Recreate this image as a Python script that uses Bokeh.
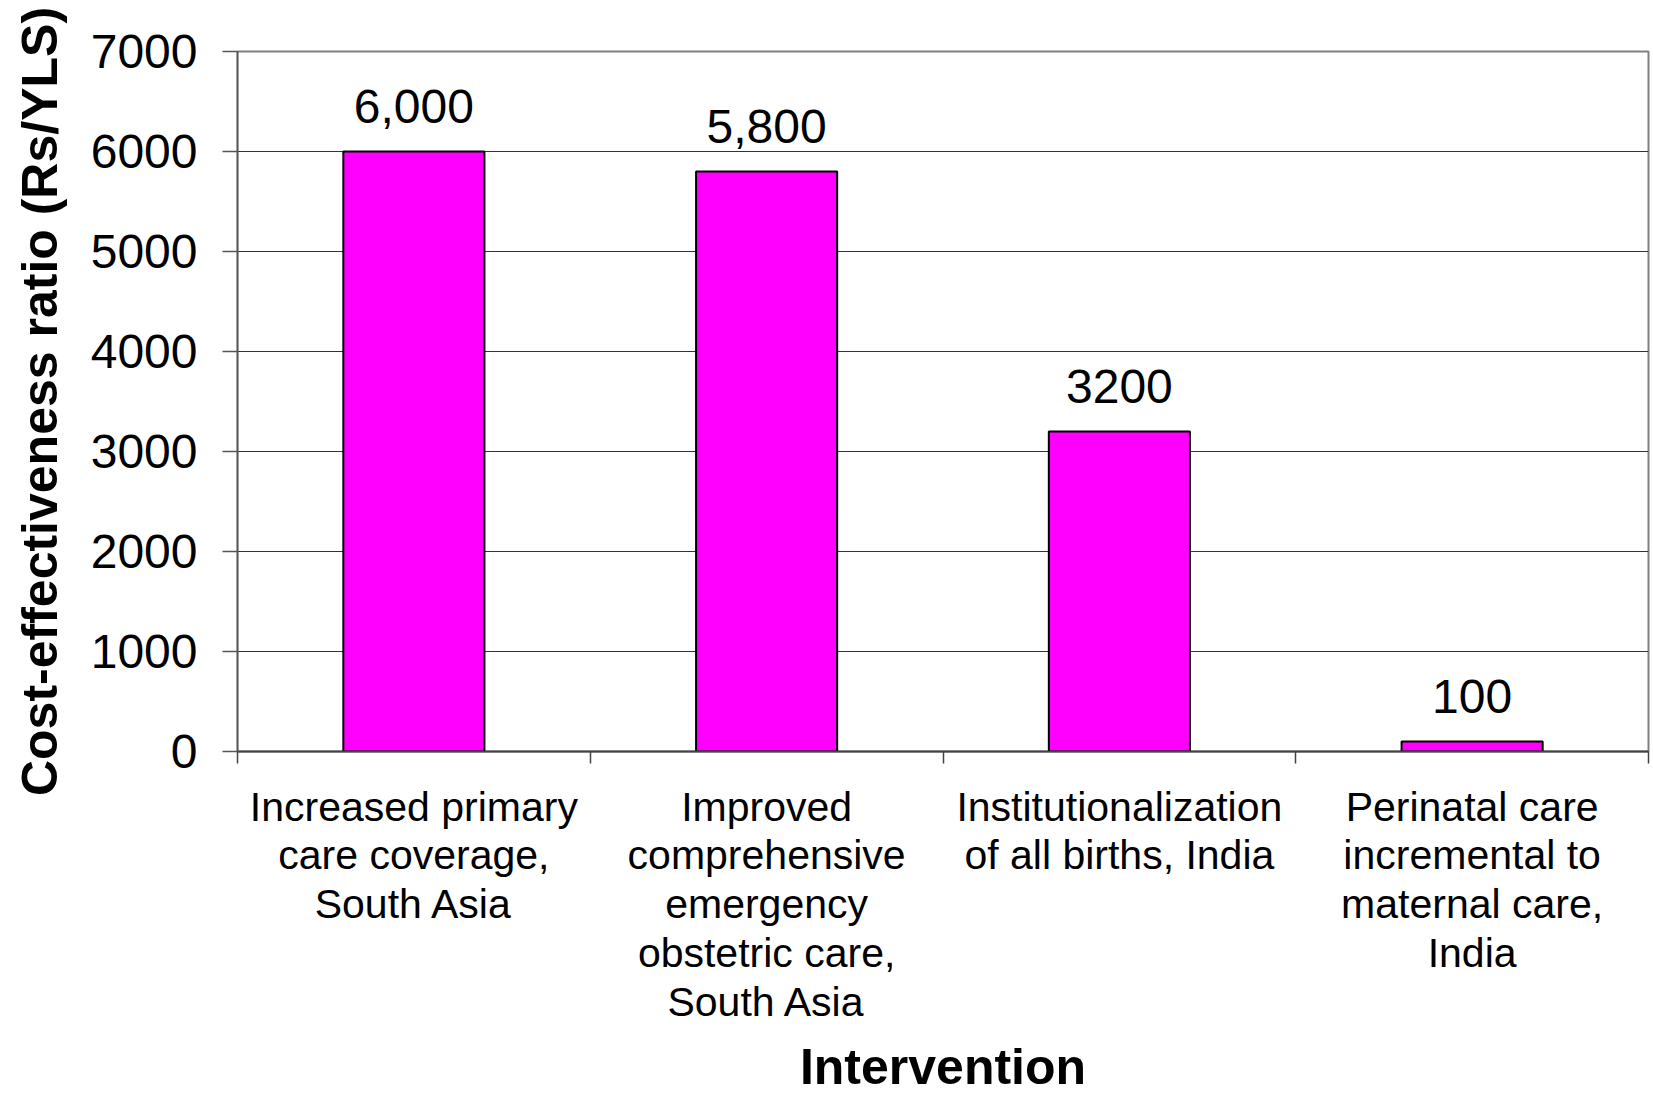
from bokeh.plotting import figure
from bokeh.models import Range1d, FixedTicker, ColumnDataSource
from bokeh.core.properties import value
from bokeh.embed import file_html
from bokeh.resources import INLINE

# Interventions and their cost-effectiveness ratios (Rs per year of life saved)
categories = [
    "Increased primary\ncare coverage,\nSouth Asia",
    "Improved\ncomprehensive\nemergency\nobstetric care,\nSouth Asia",
    "Institutionalization\nof all births, India",
    "Perinatal care\nincremental to\nmaternal care,\nIndia",
]
ratios = [6000, 5800, 3200, 100]
ratio_labels = ["6,000", "5,800", "3200", "100"]
y_ticks = [0, 1000, 2000, 3000, 4000, 5000, 6000, 7000]

FONT = "Liberation Sans"

centers = [i + 0.5 for i in range(len(categories))]
bounds = [float(i) for i in range(len(categories) + 1)]

src = ColumnDataSource(dict(x=centers, top=ratios, label=ratio_labels))

p = figure(
    width=1653, height=1098,
    x_range=Range1d(0, len(categories)), y_range=Range1d(0, 7000),
    output_backend="svg", toolbar_location=None,
    min_border_left=237, min_border_right=5,
    min_border_top=51, min_border_bottom=347,
)
p.background_fill_color = "white"
p.border_fill_color = "white"
p.outline_line_color = "#808080"
p.outline_line_width = 2

# bars
p.vbar(x="x", top="top", width=0.4, bottom=0, source=src,
       fill_color="#FF00FF", line_color="black", line_width=2)

# value labels above bars
p.text(x="x", y="top", text="label", source=src,
       text_font=value(FONT), text_font_size="48px", text_color="black",
       text_align="center", text_baseline="alphabetic", y_offset=-45)

# y axis
yax = p.yaxis[0]
yax.ticker = FixedTicker(ticks=y_ticks)
yax.major_tick_out = 15
yax.major_tick_in = 0
yax.minor_tick_out = 0
yax.minor_tick_in = 0
yax.axis_line_color = "#555555"
yax.axis_line_width = 1.5
yax.major_tick_line_color = "#555555"
yax.major_tick_line_width = 1.5
yax.major_label_text_font = FONT
yax.major_label_text_font_size = "48px"
yax.major_label_text_color = "black"
yax.major_label_standoff = 25
yax.axis_label = "Cost-effectiveness ratio (Rs/YLS)"
yax.axis_label_text_font = FONT
yax.axis_label_text_font_style = "bold"
yax.axis_label_text_font_size = "50px"
yax.axis_label_text_color = "black"
yax.axis_label_standoff = 20

# x axis: labels at category centres, ticks at category boundaries
xax = p.xaxis[0]
xax.ticker = FixedTicker(ticks=centers, minor_ticks=bounds)
xax.major_label_overrides = {c: lab for c, lab in zip(centers, categories)}
xax.major_tick_out = 0
xax.major_tick_in = 0
xax.minor_tick_out = 12
xax.minor_tick_in = 0
xax.minor_tick_line_color = "#444444"
xax.minor_tick_line_width = 1.5
xax.axis_line_color = "#444444"
xax.axis_line_width = 2
xax.major_label_text_font = FONT
xax.major_label_text_font_size = "41px"
xax.major_label_text_line_height = 1.06
xax.major_label_text_color = "black"
xax.major_label_standoff = 20
xax.axis_label = "Intervention"
xax.axis_label_text_font = FONT
xax.axis_label_text_font_style = "bold"
xax.axis_label_text_font_size = "50px"
xax.axis_label_text_color = "black"
xax.axis_label_standoff = 11

# horizontal gridlines
p.xgrid.visible = False
p.ygrid.ticker = FixedTicker(ticks=[1000, 2000, 3000, 4000, 5000, 6000])
p.ygrid.grid_line_color = "#333333"
p.ygrid.grid_line_width = 1

open("out.html", "w").write(file_html(p, INLINE))
